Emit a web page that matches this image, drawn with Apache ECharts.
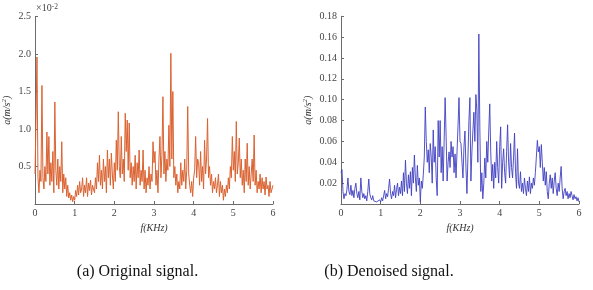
<!DOCTYPE html>
<html>
<head>
<meta charset="utf-8">
<script src="https://cdn.jsdelivr.net/npm/echarts@6/dist/echarts.min.js"></script>
<style>html,body{margin:0;padding:0;background:#fff;}#c{width:593px;height:290px;}</style>
</head>
<body>
<div id="c"></div>
<script>
// frequency grid step (KHz)
const STEP = 0.025;
const xTicks = [0, 1, 2, 3, 4, 5, 6];
const leftYTicks = [0.5, 1.0, 1.5, 2.0, 2.5];
const rightYTicks = [0.02, 0.04, 0.06, 0.08, 0.10, 0.12, 0.14, 0.16, 0.18];
const captions = ['(a) Original signal.', '(b) Denoised signal.'];

// original signal amplitude (x 10^-2 m/s^2), one value per 0.025 KHz
const originalSignal = [
  0.40, 1.10, 1.96, 0.35, 0.15, 0.45, 0.30, 1.58, 0.35, 0.20,
  0.50, 0.30, 0.96, 0.40, 0.90, 0.25, 0.55, 0.30, 0.70, 0.15,
  1.36, 0.45, 0.25, 0.60, 0.20, 0.50, 0.30, 0.83, 0.15, 0.40,
  0.20, 0.35, 0.10, 0.25, 0.08, 0.15, 0.05, 0.12, 0.03, 0.10,
  0.05, 0.18, 0.10, 0.25, 0.12, 0.30, 0.15, 0.20, 0.35, 0.10,
  0.25, 0.15, 0.35, 0.10, 0.28, 0.18, 0.32, 0.12, 0.25, 0.20,
  0.15, 0.35, 0.20, 0.55, 0.30, 0.65, 0.25, 0.45, 0.20, 0.60,
  0.30, 0.50, 0.15, 0.72, 0.35, 0.60, 0.25, 0.68, 0.40, 0.20,
  0.55, 0.30, 0.85, 0.45, 1.23, 0.50, 0.35, 0.90, 0.40, 0.60,
  0.30, 1.21, 0.70, 1.12, 0.45, 1.08, 0.35, 0.55, 0.25, 0.50,
  0.30, 0.65, 0.20, 0.55, 0.35, 0.72, 0.25, 0.45, 0.30, 0.72,
  0.20, 0.45, 0.15, 0.35, 0.25, 0.50, 0.20, 0.40, 0.30, 0.83,
  0.55, 0.70, 0.25, 0.45, 0.15, 0.60, 0.90, 0.35, 0.65, 1.43,
  0.40, 0.70, 0.30, 0.60, 0.45, 1.05, 0.50, 2.01, 0.60, 1.50,
  0.35, 0.50, 0.25, 0.40, 0.15, 0.30, 0.20, 0.55, 0.25, 0.45,
  0.30, 0.60, 0.20, 0.45, 1.30, 0.40, 0.25, 0.15, 0.30, 0.10,
  0.35, 0.45, 0.90, 0.35, 0.60, 0.55, 0.25, 0.70, 0.30, 0.50,
  0.20, 0.85, 0.40, 0.60, 1.14, 0.35, 0.50, 0.25, 0.40, 0.15,
  0.30, 0.20, 0.35, 0.15, 0.25, 0.40, 0.10, 0.30, 0.15, 0.25,
  0.05, 0.20, 0.10, 0.25, 0.15, 0.35, 0.20, 0.50, 0.35, 0.90,
  0.45, 0.70, 0.30, 1.10, 0.40, 0.55, 0.88, 0.35, 0.60, 0.25,
  0.45, 0.15, 0.60, 0.30, 0.81, 0.25, 0.50, 0.20, 0.40, 0.60,
  0.30, 0.92, 0.25, 0.45, 0.15, 0.30, 0.20, 0.40, 0.15, 0.35,
  0.20, 0.30, 0.12, 0.36, 0.20, 0.25, 0.10, 0.30, 0.15, 0.20,
  0.25
];

// denoised signal amplitude (m/s^2), one value per 0.025 KHz
const denoisedSignal = [
  0.030, 0.033, 0.012, 0.005, 0.010, 0.008, 0.014, 0.025, 0.012, 0.009,
  0.018, 0.008, 0.013, 0.006, 0.015, 0.020, 0.010, 0.006, 0.012, 0.004,
  0.025, 0.012, 0.006, 0.010, 0.005, 0.008, 0.003, 0.012, 0.024, 0.010,
  0.006, 0.004, 0.008, 0.003, 0.002, 0.004, 0.002, 0.003, 0.001, 0.004,
  0.002, 0.006, 0.003, 0.008, 0.013, 0.005, 0.010, 0.007, 0.015, 0.024,
  0.010, 0.005, 0.012, 0.008, 0.018, 0.006, 0.014, 0.020, 0.008, 0.016,
  0.010, 0.022, 0.008, 0.030, 0.012, 0.042, 0.020, 0.010, 0.028, 0.015,
  0.031, 0.008, 0.035, 0.020, 0.047, 0.025, 0.012, 0.037, 0.018, 0.025,
  0.002, 0.022, 0.015, 0.028, 0.045, 0.093, 0.060, 0.040, 0.052, 0.030,
  0.058, 0.045, 0.020, 0.071, 0.040, 0.055, 0.025, 0.008, 0.080, 0.045,
  0.080, 0.030, 0.055, 0.022, 0.060, 0.102, 0.065, 0.022, 0.040, 0.050,
  0.035, 0.060, 0.045, 0.055, 0.030, 0.048, 0.025, 0.050, 0.075, 0.102,
  0.060, 0.058, 0.040, 0.025, 0.055, 0.070, 0.035, 0.010, 0.045, 0.080,
  0.102, 0.022, 0.050, 0.070, 0.088, 0.060, 0.105, 0.090, 0.040, 0.163,
  0.073, 0.012, 0.030, 0.005, 0.020, 0.044, 0.025, 0.060, 0.040, 0.070,
  0.096, 0.050, 0.022, 0.038, 0.015, 0.040, 0.025, 0.060, 0.035, 0.020,
  0.055, 0.074, 0.015, 0.040, 0.053, 0.030, 0.020, 0.050, 0.076, 0.040,
  0.025, 0.058, 0.035, 0.025, 0.045, 0.068, 0.030, 0.015, 0.053, 0.020,
  0.015, 0.031, 0.012, 0.020, 0.010, 0.025, 0.015, 0.008, 0.022, 0.012,
  0.026, 0.010, 0.020, 0.015, 0.025, 0.018, 0.030, 0.045, 0.061, 0.050,
  0.055, 0.035, 0.057, 0.040, 0.022, 0.035, 0.018, 0.031, 0.012, 0.005,
  0.020, 0.028, 0.015, 0.025, 0.010, 0.022, 0.030, 0.015, 0.008, 0.020,
  0.012, 0.025, 0.036, 0.015, 0.005, 0.012, 0.015, 0.008, 0.012, 0.005,
  0.010, 0.006, 0.012, 0.008, 0.004, 0.009, 0.005, 0.007, 0.003, 0.006,
  0.002
];

const pairs = arr => arr.map((v, i) => [+(i * STEP).toFixed(3), v]);
const FONT = '"Liberation Serif", "Times New Roman", serif';
const AX = '#6b6b6b';

function xAxisCfg(gi) {
  return {
    gridIndex: gi, type: 'value', min: 0, max: 6, interval: 1,
    name: 'f(KHz)', nameLocation: 'middle', nameGap: 19,
    nameTextStyle: { fontFamily: FONT, fontStyle: 'italic', fontSize: 10, color: '#333' },
    axisLine: { show: true, lineStyle: { color: AX, width: 1 } },
    axisTick: { show: true, inside: true, length: 3, lineStyle: { color: AX } },
    axisLabel: { fontFamily: FONT, fontSize: 10, color: '#444', margin: 4,
      formatter: v => xTicks.includes(v) ? String(v) : '' },
    splitLine: { show: false }
  };
}
function yAxisCfg(gi, max, interval, ticks, digits, gap) {
  return {
    gridIndex: gi, type: 'value', min: 0, max: max, interval: interval,
    name: 'a(m/s{sup|2})', nameLocation: 'middle', nameGap: gap,
    nameTextStyle: { fontFamily: FONT, fontStyle: 'italic', fontSize: 10, color: '#333', lineHeight: 12,
      rich: { sup: { fontFamily: FONT, fontStyle: 'italic', fontSize: 7, verticalAlign: 'top', lineHeight: 12, color: '#333' } } },
    axisLine: { show: true, lineStyle: { color: AX, width: 1 } },
    axisTick: { show: true, inside: true, length: 3, lineStyle: { color: AX } },
    axisLabel: { fontFamily: FONT, fontSize: 10, color: '#444', margin: 4,
      formatter: v => ticks.some(t => Math.abs(t - v) < 1e-9) ? v.toFixed(digits) : '' },
    splitLine: { show: false }
  };
}

const chart = echarts.init(document.getElementById('c'), null, { renderer: 'canvas' });
chart.setOption({
  animation: false,
  backgroundColor: '#fff',
  grid: [
    { left: 34, top: 16.5, width: 239, height: 187.5 },
    { left: 341, top: 16.3, width: 238, height: 187.7 }
  ],
  xAxis: [xAxisCfg(0), xAxisCfg(1)],
  yAxis: [
    yAxisCfg(0, 2.5, 0.5, leftYTicks, 1, 22),
    yAxisCfg(1, 0.18, 0.02, rightYTicks, 2, 27)
  ],
  series: [
    { type: 'line', xAxisIndex: 0, yAxisIndex: 0, data: pairs(originalSignal),
      showSymbol: false, lineStyle: { color: '#DB6230', width: 1 } },
    { type: 'line', xAxisIndex: 1, yAxisIndex: 1, data: pairs(denoisedSignal),
      showSymbol: false, lineStyle: { color: '#4040C2', width: 0.9 } }
  ],
  graphic: [
    { type: 'text', left: 36, top: 3, style: { text: '×10{sup|-2}', fontFamily: FONT, fontSize: 10, fill: '#444',
      rich: { sup: { fontFamily: FONT, fontSize: 7.5, verticalAlign: 'top', fill: '#444' } } } },
    { type: 'text', x: 137.5, y: 272, style: { text: captions[0], fontFamily: FONT, fontSize: 16, fill: '#111', align: 'center', verticalAlign: 'middle' } },
    { type: 'text', x: 389, y: 272, style: { text: captions[1], fontFamily: FONT, fontSize: 16, fill: '#111', align: 'center', verticalAlign: 'middle' } }
  ]
});
</script>
</body>
</html>
